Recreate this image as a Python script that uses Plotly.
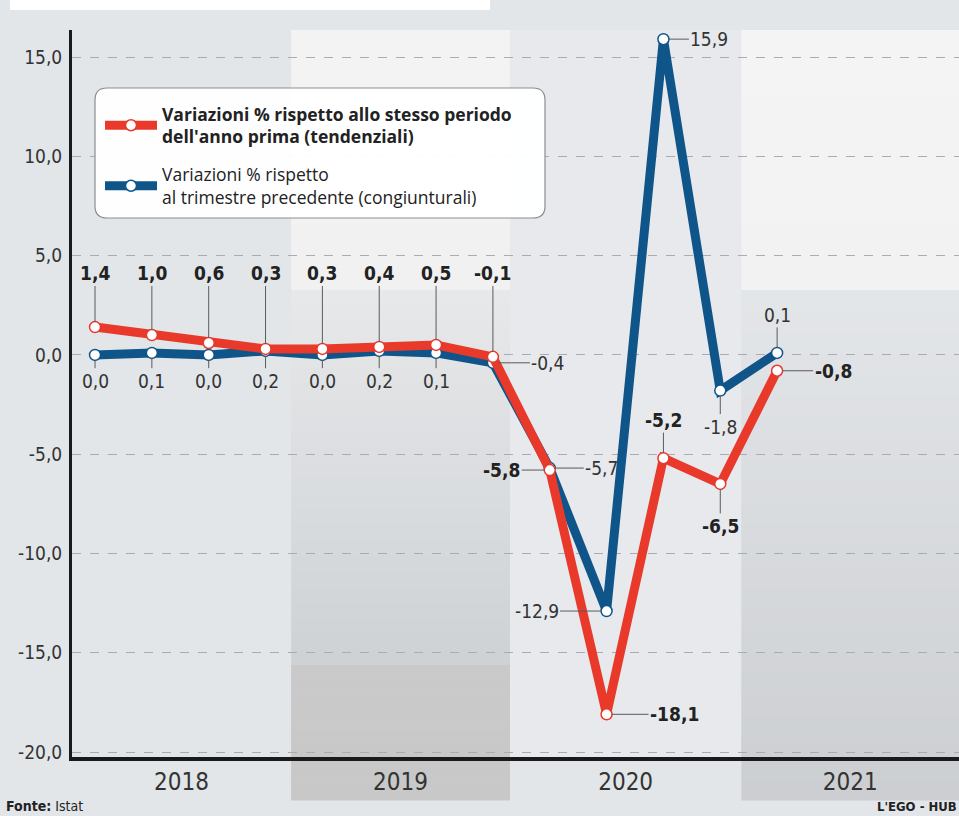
import plotly.graph_objects as go

# ---------------- data ----------------
quarters = ["I-2018", "II-2018", "III-2018", "IV-2018",
            "I-2019", "II-2019", "III-2019", "IV-2019",
            "I-2020", "II-2020", "III-2020", "IV-2020",
            "I-2021"]
tendenziali = [1.4, 1.0, 0.6, 0.3, 0.3, 0.4, 0.5, -0.1, -5.8, -18.1, -5.2, -6.5, -0.8]
congiunturali = [0.0, 0.1, 0.0, 0.2, 0.0, 0.2, 0.1, -0.4, -5.7, -12.9, 15.9, -1.8, 0.1]
years = ["2018", "2019", "2020", "2021"]
y_ticks = [-20, -15, -10, -5, 0, 5, 10, 15]
name_red = "<b>Variazioni % rispetto allo stesso periodo<br>dell'anno prima (tendenziali)</b>"
name_blue = "Variazioni % rispetto<br>al trimestre precedente (congiunturali)"

# ---------------- layout constants ----------------
W, H = 959, 816
ML, MR, MT, MB = 72, 0, 30, 59
PW, PH = W - ML - MR, H - MT - MB
XR = [-0.405, 15.2]
YR = [-20.25, 16.36]
band_edges = [XR[0], 3.45, 7.30, 11.37, XR[1]]
year_centers = [(band_edges[i] + band_edges[i + 1]) / 2 for i in range(4)]

RED = "#e8392b"
BLUE = "#0f5589"
COND = "Liberation Sans Narrow, DejaVu Sans Condensed, Roboto Condensed, Arial Narrow, sans-serif"
LEGF = "Open Sans, Roboto, sans-serif"

x = list(range(len(quarters)))

def fmt(v):
    return f"{v:.1f}".replace(".", ",")

fig = go.Figure()
fig.add_trace(go.Scatter(
    x=x, y=congiunturali, mode="lines+markers", name=name_blue,
    legendgroup="cong", legendrank=2,
    line=dict(color=BLUE, width=9),
    marker=dict(size=11, color="white", line=dict(color=BLUE, width=1.5)),
))
fig.add_trace(go.Scatter(
    x=x, y=tendenziali, mode="lines+markers", name=name_red,
    legendgroup="tend", legendrank=1,
    line=dict(color=RED, width=9),
    marker=dict(size=11, color="white", line=dict(color=RED, width=1.5)),
))

# ---------------- background bands ----------------
def py2paper(py):
    return (MT + PH - py) / PH

def hex2rgb(h):
    h = h.lstrip("#")
    return tuple(int(h[i:i + 2], 16) for i in (0, 2, 4))

def lerp(c0, c1, t):
    a, b = hex2rgb(c0), hex2rgb(c1)
    return "rgb(%d,%d,%d)" % tuple(round(a[i] + (b[i] - a[i]) * t) for i in range(3))

shapes = []

def band(x0, x1, stops, n=24):
    for (p0, p1, c0, c1) in stops:
        steps = n if c0 != c1 else 1
        for k in range(steps):
            a = p0 + (p1 - p0) * k / steps
            b = p0 + (p1 - p0) * (k + 1) / steps
            shapes.append(dict(type="rect", xref="x", yref="paper", x0=x0, x1=x1,
                               y0=py2paper(b + 0.5), y1=py2paper(a),
                               fillcolor=lerp(c0, c1, (k + 0.5) / steps),
                               line=dict(width=0), layer="below"))

# 2020 slightly lighter
band(band_edges[2], band_edges[3], [(30, 757, "#e7e9ec", "#e7e9ec")])
# 2019
band(band_edges[1], band_edges[2], [(30, 290, "#f3f3f3", "#f1f1f2"),
                                    (290, 665, "#e6e8ea", "#cfd2d5"),
                                    (665, 800, "#c9c9ca", "#c8c8c8")])
# 2021
band(band_edges[3], band_edges[4], [(30, 290, "#f4f4f4", "#f2f2f3"),
                                    (290, 800, "#e4e6e8", "#cbced1")])

# top white strip (cut title bar)
shapes.append(dict(type="rect", xref="paper", yref="paper",
                   x0=(10 - ML) / PW, x1=(490 - ML) / PW,
                   y0=py2paper(10), y1=py2paper(-2),
                   fillcolor="white", line=dict(width=0), layer="below"))

# legend rounded box
lx0, lx1, ly0, ly1, r = 95, 545, 88, 218, 12
def px(xp):
    return (xp - ML) / PW
def py(yp):
    return py2paper(yp)
path = (f"M {px(lx0 + r)},{py(ly0)} L {px(lx1 - r)},{py(ly0)} "
        f"Q {px(lx1)},{py(ly0)} {px(lx1)},{py(ly0 + r)} "
        f"L {px(lx1)},{py(ly1 - r)} Q {px(lx1)},{py(ly1)} {px(lx1 - r)},{py(ly1)} "
        f"L {px(lx0 + r)},{py(ly1)} Q {px(lx0)},{py(ly1)} {px(lx0)},{py(ly1 - r)} "
        f"L {px(lx0)},{py(ly0 + r)} Q {px(lx0)},{py(ly0)} {px(lx0 + r)},{py(ly0)} Z")
shapes.append(dict(type="path", xref="paper", yref="paper", path=path,
                   fillcolor="rgba(255,255,255,0.96)", line=dict(color="#8a8d90", width=1.2),
                   layer="above"))

# ---------------- data labels ----------------
annotations = []
LEAD = "#5a5a5a"

def lab(xi, yv, text, bold, ax=0, ay=0, abs_y=None):
    t = f"<b>{text}</b>" if bold else text
    d = dict(x=xi, y=yv, xref="x", yref="y", text=t, showarrow=True,
             arrowhead=0, arrowwidth=1, arrowcolor=LEAD, standoff=5,
             font=dict(family=COND, size=19, color="#222" if bold else "#333"),
             borderpad=1)
    if abs_y is not None:
        d.update(axref="x", ayref="y", ax=xi, ay=abs_y)
    else:
        d.update(ax=ax, ay=ay)
    annotations.append(d)

# red (tendenziali)
for i in range(8):
    lab(x[i], tendenziali[i], fmt(tendenziali[i]), True, abs_y=4.1)
red_off = {8: (-48, 0), 9: (68, 0), 10: (0, -38), 11: (0, 42), 12: (56, 0)}
for i, (ax, ay) in red_off.items():
    lab(x[i], tendenziali[i], fmt(tendenziali[i]), True, ax, ay)

# blue (congiunturali)
for i in range(7):
    lab(x[i], congiunturali[i], fmt(congiunturali[i]), False, abs_y=-1.3)
blue_off = {7: (55, 0), 8: (52, 0), 9: (-70, 0), 10: (46, 0), 11: (0, 36), 12: (0, -38)}
for i, (ax, ay) in blue_off.items():
    lab(x[i], congiunturali[i], fmt(congiunturali[i]), False, ax, ay)

# footer
annotations.append(dict(xref="paper", yref="paper", x=(4 - ML) / PW, y=py2paper(806),
                        xanchor="left", yanchor="middle", showarrow=False,
                        text="<b>Fonte:</b> Istat",
                        font=dict(family=COND, size=14, color="#222")))
annotations.append(dict(xref="paper", yref="paper", x=1.0, y=py2paper(806),
                        xanchor="right", yanchor="middle", showarrow=False,
                        text="<b>L'EGO - HUB</b>",
                        font=dict(family=COND, size=13, color="#222")))

fig.update_layout(
    width=W, height=H,
    margin=dict(l=ML, r=MR, t=MT, b=MB),
    paper_bgcolor="#e3e6e9",
    plot_bgcolor="rgba(0,0,0,0)",
    shapes=shapes,
    annotations=annotations,
    showlegend=True,
    legend=dict(x=(100 - ML) / PW, y=py2paper(96), xanchor="left", yanchor="top",
                bgcolor="rgba(0,0,0,0)", borderwidth=0,
                traceorder="grouped", itemwidth=52, tracegroupgap=12,
                font=dict(family=LEGF, size=17.5, color="#222")),
    xaxis=dict(range=XR, tickmode="array", tickvals=year_centers, ticktext=years,
               showgrid=False, zeroline=False, showline=True, linecolor="#1a1a1a",
               linewidth=4, ticks="", ticklabelstandoff=0,
               tickfont=dict(family=COND, size=24, color="#333")),
    yaxis=dict(range=YR, tickmode="array", tickvals=y_ticks,
               ticktext=[fmt(v) for v in y_ticks],
               showgrid=True, gridcolor="#a9adb1", gridwidth=1, griddash="dash",
               zeroline=False, showline=True, linecolor="#1a1a1a", linewidth=3,
               ticks="", ticklabelstandoff=3,
               tickfont=dict(family=COND, size=19, color="#333")),
)

fig.write_html("out.html")
